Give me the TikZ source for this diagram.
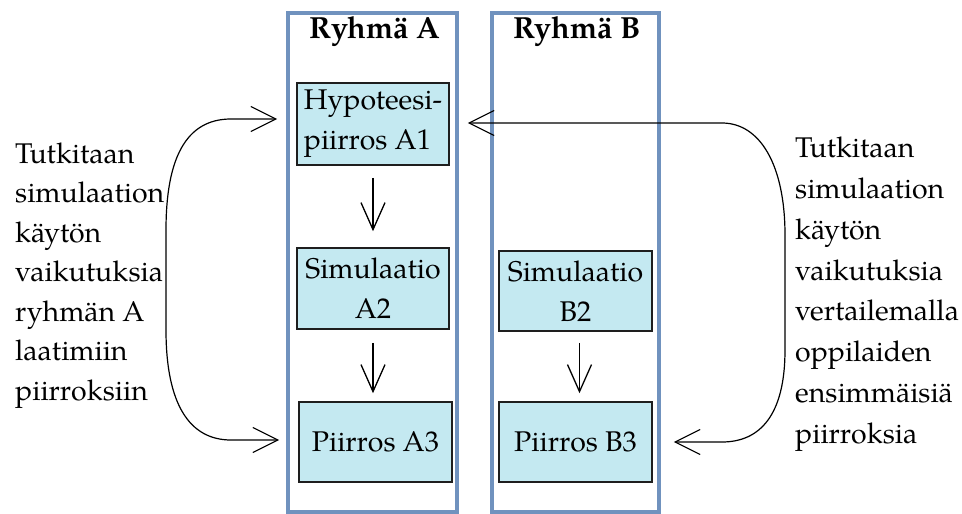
\documentclass[tikz,border=0pt]{standalone}
\usepackage{fontspec}
\setmainfont{texgyrepagella}[Extension=.otf,UprightFont=*-regular,BoldFont=*-bold,ItalicFont=*-italic,BoldItalicFont=*-bolditalic]
\usetikzlibrary{arrows.meta}
\definecolor{groupblue}{RGB}{112,146,190}
\definecolor{boxfill}{RGB}{196,233,241}
\definecolor{boxline}{RGB}{30,30,30}
\tikzset{
  group/.style={draw=groupblue, line width=4pt},
  stepbox/.style={draw=boxline, fill=boxfill, line width=1.6pt, inner sep=0pt,
    font=\fontsize{28.5}{40}\selectfont, align=center},
  title/.style={font=\fontsize{30.5}{34}\selectfont\bfseries, inner sep=0pt},
  sidetext/.style={inner sep=0pt, align=left, anchor=north west},
  barb/.style={line width=1.3pt, -{Straight Barb[length=27pt,width=24pt]}},
  dblbarb/.style={line width=1.2pt, {Straight Barb[length=25pt,width=25pt]}-{Straight Barb[length=25pt,width=25pt]}}
}
\begin{document}
\begin{tikzpicture}[x=1pt,y=-1pt]
\useasboundingbox (0,0) rectangle (962,514);
% group frames
\draw[group] (288,13) rectangle (457,512);
\draw[group] (492,13) rectangle (659,512);
\node[title] (tA) at (375,32) {Ryhmä A};
\node[title] (tB) at (577,32) {Ryhmä B};
% boxes
\node[stepbox, minimum width=152pt, minimum height=82pt, align=left] (A1) at (373,124) {Hypoteesi-\\piirros A1};
\node[stepbox, minimum width=152pt, minimum height=81pt] (A2) at (373,288.5) {Simulaatio\\A2};
\node[stepbox, minimum width=153pt, minimum height=80pt] (A3) at (375.5,442) {Piirros A3};
\node[stepbox, minimum width=153pt, minimum height=80pt] (B2) at (575.5,291) {Simulaatio\\B2};
\node[stepbox, minimum width=153pt, minimum height=80pt] (B3) at (575.5,442) {Piirros B3};
% vertical arrows
\draw[barb] ([yshift=-12pt]A1.south) -- ([yshift=16pt]A2.north);
\draw[barb] ([yshift=-13pt]A2.south) -- ([yshift=8pt,xshift=-2.5pt]A3.north);
\draw[barb] ([yshift=-11pt,xshift=4pt]B2.south) -- ([yshift=8pt,xshift=4pt]B3.north);
% side texts
\node[sidetext, font=\fontsize{28.5}{39.5}\selectfont] (L) at (15,142.5)
  {Tutkitaan\\simulaation\\käytön\\vaikutuksia\\ryhmän A\\laatimiin\\piirroksiin};
\node[sidetext, font=\fontsize{28.5}{40.9}\selectfont] (R) at (795,136.5)
  {Tutkitaan\\simulaation\\käytön\\vaikutuksia\\vertailemalla\\oppilaiden\\ensimmäisiä\\piirroksia};
% curved connectors
\draw[dblbarb] ([xshift=-19pt,yshift=5pt]A1.west) -- (231,119)
  .. controls (185,119) and (166,160) .. (166,230) -- (166,330)
  .. controls (166,405) and (190,440) .. (231,440)
  -- ([xshift=-19pt,yshift=2pt]A3.west);
\draw[dblbarb] ([xshift=18pt,yshift=1pt]A1.east) -- (722,123)
  .. controls (760,123) and (785,165) .. (785,235) -- (785,350)
  .. controls (785,415) and (760,442) .. (722,442)
  -- ([xshift=21pt]B3.east);
\end{tikzpicture}
\end{document}
